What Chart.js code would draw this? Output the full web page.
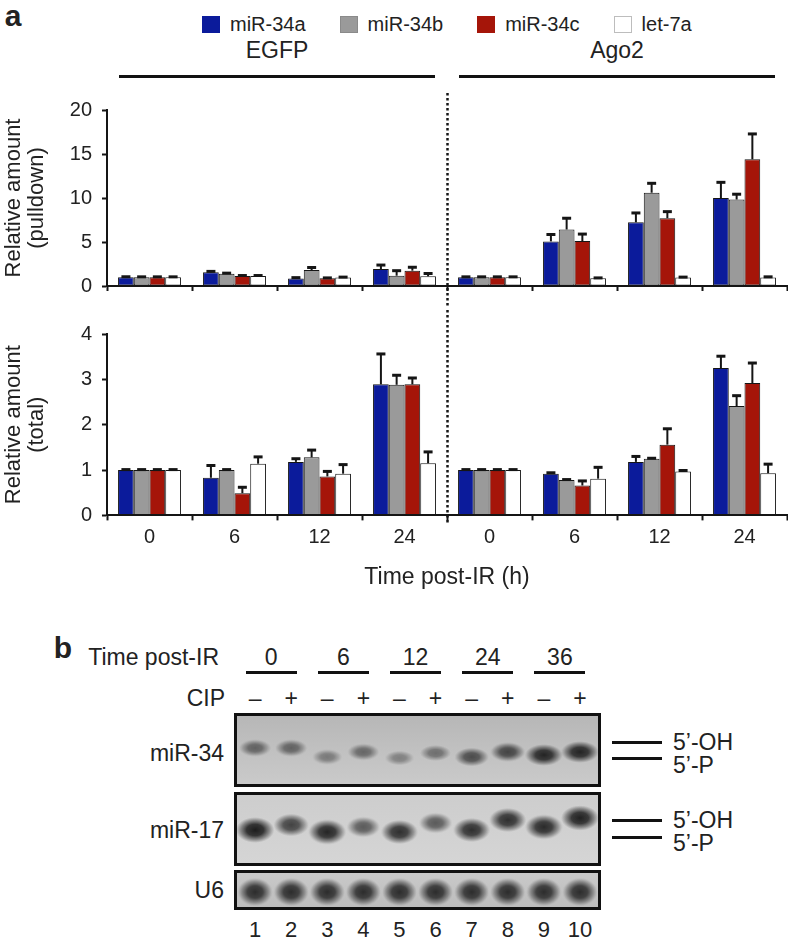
<!DOCTYPE html>
<html><head><meta charset="utf-8">
<script src="https://cdn.jsdelivr.net/npm/chart.js@4.4.1/dist/chart.umd.min.js"></script>
<style>
html,body{margin:0;padding:0;background:#fff;}
body{width:788px;height:940px;position:relative;overflow:hidden;font-family:"Liberation Sans",Arial,Helvetica,sans-serif;color:#222;}
.abs{position:absolute;white-space:nowrap;line-height:1;}
.c{transform:translate(-50%,-50%);}
.r{transform:translate(-100%,-50%);}
.l{transform:translate(0,-50%);}
.rule{position:absolute;background:#111;}
.box{position:absolute;border:3px solid #111;box-sizing:border-box;}
.cv{position:absolute;}
#legend{position:absolute;left:202px;top:13px;display:flex;align-items:center;gap:34px;font-size:20px;}
#legend .it{display:flex;align-items:center;gap:10px;}
#legend .sw{width:18px;height:17px;box-sizing:border-box;}
</style></head>
<body>
<div class="abs c" style="left:13px;top:16px;font-size:30px;font-weight:bold;">a</div>
<div id="legend"></div>
<div id="groupHeads"></div>

<div class="cv" style="left:0;top:88px;width:788px;height:220px;"><canvas id="topChart"></canvas></div>
<div class="cv" style="left:0;top:310px;width:788px;height:282px;"><canvas id="bottomChart"></canvas></div>

<div class="abs c" style="left:63px;top:648px;font-size:30px;font-weight:bold;">b</div>
<div class="abs r" style="left:219px;top:657px;font-size:23px;">Time post-IR</div>
<div class="abs r" style="left:225px;top:698px;font-size:23px;">CIP</div>
<div class="abs r" style="left:224px;top:753px;font-size:23px;">miR-34</div>
<div class="abs r" style="left:224px;top:830px;font-size:23px;">miR-17</div>
<div class="abs r" style="left:224px;top:890px;font-size:23px;">U6</div>

<div class="box" style="left:234px;top:713px;width:367px;height:74px;"><div style="position:relative;width:361px;height:68px;"><canvas id="gel34"></canvas></div></div>
<div class="box" style="left:234px;top:792px;width:367px;height:74px;"><div style="position:relative;width:361px;height:68px;"><canvas id="gel17"></canvas></div></div>
<div class="box" style="left:234px;top:870px;width:367px;height:40px;"><div style="position:relative;width:361px;height:34px;"><canvas id="gelU6"></canvas></div></div>

<div class="rule" style="left:612px;top:741px;width:50px;height:3px;"></div>
<div class="rule" style="left:612px;top:757px;width:50px;height:3px;"></div>
<div class="abs l" style="left:673px;top:742px;font-size:23px;">5’-OH</div>
<div class="abs l" style="left:673px;top:765px;font-size:23px;">5’-P</div>
<div class="rule" style="left:612px;top:819px;width:50px;height:3px;"></div>
<div class="rule" style="left:612px;top:836px;width:50px;height:3px;"></div>
<div class="abs l" style="left:673px;top:820px;font-size:23px;">5’-OH</div>
<div class="abs l" style="left:673px;top:843px;font-size:23px;">5’-P</div>
<div id="gelLabels"></div>

<script>
// ---------------- DATA (panel a) ----------------
const timeLabels = ['0', '6', '12', '24', '0', '6', '12', '24'];
const groupNames = ['EGFP', 'Ago2'];
const seriesNames = ['miR-34a', 'miR-34b', 'miR-34c', 'let-7a'];

// Relative amount (pulldown)
const pulldown34a = [1.0, 1.56, 0.85, 1.92, 1.0, 5.07, 7.24, 10.0];
const pulldown34b = [1.0, 1.38, 1.81, 1.17, 1.0, 6.42, 10.6, 9.83];
const pulldown34c = [1.0, 1.14, 0.87, 1.74, 1.0, 5.10, 7.70, 14.4];
const pulldownLet7a = [1.0, 1.14, 0.96, 1.10, 1.0, 0.87, 0.96, 0.96];
const pulldownErr34a = [0.05, 0.10, 0.10, 0.46, 0.04, 0.78, 1.06, 1.78];
const pulldownErr34b = [0.04, 0.08, 0.29, 0.57, 0.04, 1.28, 1.07, 0.60];
const pulldownErr34c = [0.04, 0.05, 0.05, 0.39, 0.04, 0.80, 0.75, 2.88];
const pulldownErrLet7a = [0.04, 0.05, 0.05, 0.32, 0.04, 0.05, 0.05, 0.08];

// Relative amount (total)
const total34a = [1.0, 0.83, 1.18, 2.89, 1.0, 0.92, 1.18, 3.25];
const total34b = [1.0, 1.00, 1.28, 2.88, 1.0, 0.78, 1.25, 2.41];
const total34c = [1.0, 0.49, 0.86, 2.89, 1.0, 0.66, 1.56, 2.92];
const totalLet7a = [1.0, 1.14, 0.92, 1.15, 1.0, 0.81, 0.97, 0.93];
const totalErr34a = [0.01, 0.27, 0.07, 0.67, 0.01, 0.02, 0.12, 0.26];
const totalErr34b = [0.01, 0.01, 0.16, 0.21, 0.01, 0.01, 0.01, 0.23];
const totalErr34c = [0.01, 0.13, 0.11, 0.14, 0.01, 0.10, 0.35, 0.44];
const totalErrLet7a = [0.01, 0.15, 0.20, 0.25, 0.01, 0.25, 0.02, 0.20];

const pulldownTicks = [0, 5, 10, 15, 20];
const totalTicks = [0, 1, 2, 3, 4];

// ---------------- DATA (panel b) ----------------
const laneNumbers = [1, 2, 3, 4, 5, 6, 7, 8, 9, 10];
const cipTreatment = ['–', '+', '–', '+', '–', '+', '–', '+', '–', '+'];
const timePoints = ['0', '6', '12', '24', '36'];
const mir34Migration = [32, 32, 41, 36, 42, 37, 41, 36, 39, 36];
const mir34Signal = [0.55, 0.55, 0.42, 0.52, 0.38, 0.48, 0.68, 0.72, 0.9, 0.9];
const mir17Migration = [35, 30, 37, 32, 37, 28, 35, 25, 32, 23];
const mir17Signal = [0.95, 0.75, 0.9, 0.62, 0.85, 0.62, 0.85, 0.85, 0.88, 0.92];
const u6Migration = [19, 19, 19, 19, 19, 19, 19, 19, 19, 19];
const u6Signal = [0.85, 0.85, 0.85, 0.85, 0.85, 0.85, 0.85, 0.85, 0.85, 0.85];

// ---------------- STYLES ----------------
const seriesColors = ['#0b1b9b', '#9a9a9a', '#a51509', '#ffffff'];
const legendBorders = ['#0b1b9b', '#8a8a8a', '#a51509', '#bdbdbd'];
const ink = '#151515';
const textColor = '#222';

Chart.defaults.font.family = '"Liberation Sans", Arial, Helvetica, sans-serif';
Chart.defaults.color = textColor;

// legend (HTML)
const legendEl = document.getElementById('legend');
seriesNames.forEach((n, i) => {
  const it = document.createElement('div'); it.className = 'it';
  const sw = document.createElement('div'); sw.className = 'sw';
  sw.style.background = seriesColors[i]; sw.style.border = '1px solid ' + legendBorders[i];
  const tx = document.createElement('span'); tx.textContent = n;
  it.appendChild(sw); it.appendChild(tx); legendEl.appendChild(it);
});

// ---------------- PLUGINS ----------------
const errorBarPlugin = {
  id: 'errorBars',
  afterDatasetsDraw(chart) {
    const {ctx} = chart; const y = chart.scales.y;
    ctx.save(); ctx.strokeStyle = ink; ctx.lineCap = 'butt';
    chart.data.datasets.forEach((ds, i) => {
      const meta = chart.getDatasetMeta(i);
      meta.data.forEach((bar, j) => {
        const yt = y.getPixelForValue(ds.data[j] + ds.errors[j]);
        ctx.lineWidth = 2;
        ctx.beginPath(); ctx.moveTo(bar.x, bar.y); ctx.lineTo(bar.x, yt); ctx.stroke();
        ctx.lineWidth = 3;
        ctx.beginPath(); ctx.moveTo(bar.x - 4.5, yt); ctx.lineTo(bar.x + 4.5, yt); ctx.stroke();
      });
    });
    ctx.restore();
  }
};
const dividerPlugin = {
  id: 'divider',
  afterDraw(chart, args, opts) {
    if (!opts || opts.afterIndex == null) return;
    const x = chart.scales.x;
    const px = Math.round((x.getPixelForValue(opts.afterIndex) + x.getPixelForValue(opts.afterIndex + 1)) / 2) + 0.5;
    const yTo = opts.extendBelowArea != null ? chart.chartArea.bottom + opts.extendBelowArea : chart.height;
    const ctx = chart.ctx;
    ctx.save(); ctx.strokeStyle = ink; ctx.lineWidth = 2.5; ctx.setLineDash([2.5, 2.5]);
    ctx.beginPath(); ctx.moveTo(px, opts.yFrom); ctx.lineTo(px, yTo); ctx.stroke(); ctx.restore();
  }
};
const groupHeadPlugin = {
  id: 'groupHeads',
  afterDraw(chart, args, opts) {
    if (!opts || !opts.enabled || chart._headsDone) return;
    chart._headsDone = true;
    const x = chart.scales.x; const host = document.getElementById('groupHeads');
    const per = timeLabels.length / groupNames.length;
    groupNames.forEach((g, gi) => {
      const a = x.getPixelForValue(gi * per), b = x.getPixelForValue(gi * per + per - 1);
      const w = x.getPixelForValue(1) - x.getPixelForValue(0);
      const cx = (a + b) / 2;
      const t = document.createElement('div'); t.className = 'abs c';
      t.style.cssText = 'left:' + cx + 'px;top:50px;font-size:23px;'; t.textContent = g; host.appendChild(t);
      const r = document.createElement('div'); r.className = 'rule';
      const half = (b - a + w) / 2 - 12;
      r.style.cssText = 'left:' + (cx - half) + 'px;top:75px;width:' + (2 * half) + 'px;height:3px;';
      host.appendChild(r);
    });
  }
};

function barDatasets(vals, errs) {
  return seriesNames.map((n, i) => ({
    label: n, data: vals[i], errors: errs[i],
    backgroundColor: seriesColors[i], borderColor: ink, borderWidth: 1, borderSkipped: false,
    categoryPercentage: 0.74, barPercentage: 1.0
  }));
}

function makeBar(id, vals, errs, ticks, opts) {
  return new Chart(document.getElementById(id), {
    type: 'bar',
    data: {labels: timeLabels, datasets: barDatasets(vals, errs)},
    options: {
      responsive: true, maintainAspectRatio: false, animation: false,
      layout: {padding: opts.padding},
      plugins: {legend: {display: false}, tooltip: {enabled: false},
        divider: opts.divider, groupHeads: {enabled: !!opts.heads}},
      scales: {
        x: {
          grid: {display: true, offset: true, drawOnChartArea: false, drawTicks: true, tickLength: 5, tickWidth: 2, tickColor: ink, color: ink},
          border: {display: true, color: ink, width: 2},
          ticks: {display: opts.showX, font: {size: 20, lineHeight: 1.2}, color: textColor, padding: 5, maxRotation: 0, autoSkip: false},
          title: {display: opts.showX, text: 'Time post-IR (h)', font: {size: 23, lineHeight: 1.2}, color: textColor, padding: {top: 9, bottom: 0}}
        },
        y: {
          min: ticks[0], max: ticks[ticks.length - 1],
          afterBuildTicks: (s) => { s.ticks = ticks.map(v => ({value: v})); },
          afterFit: (s) => { s.width = 107; },
          grid: {display: true, drawOnChartArea: false, drawTicks: true, tickLength: 5, tickWidth: 2, tickColor: ink},
          border: {display: true, color: ink, width: 2},
          ticks: {font: {size: 20, lineHeight: 1.2}, color: textColor, padding: 10},
          title: {display: true, text: opts.yTitle, font: {size: 22, lineHeight: 1.05}, color: textColor, padding: {top: 2, bottom: 0}}
        }
      }
    },
    plugins: [errorBarPlugin, dividerPlugin, groupHeadPlugin]
  });
}

makeBar('topChart',
  [pulldown34a, pulldown34b, pulldown34c, pulldownLet7a],
  [pulldownErr34a, pulldownErr34b, pulldownErr34c, pulldownErrLet7a],
  pulldownTicks,
  {padding: {top: 15, bottom: 12, left: 0, right: 1}, showX: false, yTitle: ['Relative amount', '(pulldown)'],
   divider: {afterIndex: 3, yFrom: 5}, heads: true});

makeBar('bottomChart',
  [total34a, total34b, total34c, totalLet7a],
  [totalErr34a, totalErr34b, totalErr34c, totalErrLet7a],
  totalTicks,
  {padding: {top: 24, bottom: 1, left: 0, right: 1}, showX: true, yTitle: ['Relative amount', '(total)'],
   divider: {afterIndex: 3, yFrom: 0, extendBelowArea: 8}, heads: false});

// ---------------- GEL (panel b) ----------------
function bandImage(signal, w, h) {
  const W = Math.ceil(w * 1.5), H = Math.ceil(h * 1.7);
  const c = document.createElement('canvas'); c.width = W; c.height = H;
  const g = c.getContext('2d');
  g.translate(W / 2, H / 2); g.scale(w / 2, h / 2);
  const a = Math.min(1, signal);
  const grad = g.createRadialGradient(0, 0, 0, 0, 0, 1.15);
  grad.addColorStop(0, 'rgba(18,18,18,' + a + ')');
  grad.addColorStop(0.45, 'rgba(22,22,22,' + (a * 0.88) + ')');
  grad.addColorStop(0.75, 'rgba(40,40,40,' + (a * 0.45) + ')');
  grad.addColorStop(1, 'rgba(60,60,60,0)');
  g.fillStyle = grad; g.fillRect(-1.5, -1.5, 3, 3);
  return c;
}
const gelBgPlugin = {
  id: 'gelBg',
  beforeDraw(chart, args, opts) {
    const {ctx} = chart;
    const gr = ctx.createLinearGradient(0, 0, 0, chart.height);
    gr.addColorStop(0, opts.top); gr.addColorStop(1, opts.bottom);
    ctx.save(); ctx.fillStyle = gr; ctx.fillRect(0, 0, chart.width, chart.height); ctx.restore();
  }
};
function makeGel(id, migration, signal, height, sizeFn, bg) {
  const imgs = signal.map((s, i) => sizeFn(s, i));
  return new Chart(document.getElementById(id), {
    type: 'scatter',
    data: {datasets: [{data: laneNumbers.map((l, i) => ({x: l, y: migration[i]})), pointStyle: imgs, pointRadius: 5, pointHoverRadius: 5, clip: false}]},
    options: {
      responsive: true, maintainAspectRatio: false, animation: false,
      layout: {padding: 0, autoPadding: false},
      plugins: {legend: {display: false}, tooltip: {enabled: false}, gelBg: bg},
      scales: {
        x: {display: false, min: 0.5, max: 10.5},
        y: {display: false, min: 0, max: height, reverse: true}
      }
    },
    plugins: [gelBgPlugin]
  });
}
makeGel('gel34', mir34Migration, mir34Signal, 68, (s) => bandImage(s, 20 + 14 * s, 8 + 12 * s), {top: '#b7b7b7', bottom: '#cacaca'});
makeGel('gel17', mir17Migration, mir17Signal, 68, (s) => bandImage(s, 20 + 14 * s, 9 + 14 * s), {top: '#cdcdcd', bottom: '#d5d5d5'});
const u6 = makeGel('gelU6', u6Migration, u6Signal, 34, (s) => bandImage(s, 30, 24), {top: '#c9c9c9', bottom: '#bdbdbd'});

// lane labels aligned to the gel lane scale
const lx = u6.scales.x; const boxInnerLeft = 237;
const labHost = document.getElementById('gelLabels');
function addText(cls, x, y, size, txt) {
  const d = document.createElement('div'); d.className = 'abs ' + cls;
  d.style.cssText = 'left:' + x + 'px;top:' + y + 'px;font-size:' + size + 'px;'; d.textContent = txt; labHost.appendChild(d);
}
laneNumbers.forEach((l, i) => {
  const px = boxInnerLeft + lx.getPixelForValue(l);
  addText('c', px, 698, 23, cipTreatment[i]);
  addText('c', px, 930, 22, String(l));
});
timePoints.forEach((t, k) => {
  const cx = boxInnerLeft + (lx.getPixelForValue(2 * k + 1) + lx.getPixelForValue(2 * k + 2)) / 2 - 2;
  addText('c', cx, 657, 23, t);
  const r = document.createElement('div'); r.className = 'rule';
  r.style.cssText = 'left:' + (cx - 25.5) + 'px;top:671px;width:51px;height:3px;'; labHost.appendChild(r);
});
</script>
</body></html>
